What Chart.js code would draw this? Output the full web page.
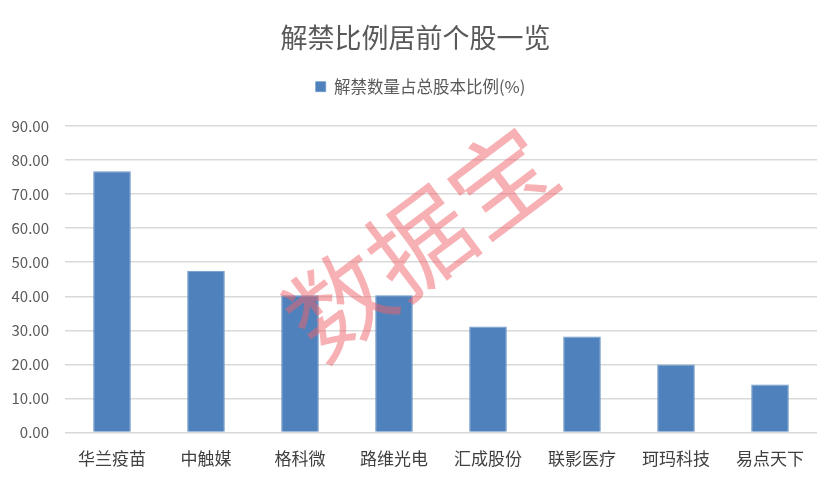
<!DOCTYPE html>
<html>
<head>
<meta charset="utf-8">
<script src="https://cdn.jsdelivr.net/npm/chart.js@4"></script>
<style>
  html, body { margin: 0; padding: 0; background: #fff; }
  #wrap { width: 832px; height: 482px; }
</style>
</head>
<body>
<div id="wrap"><canvas id="lockupChart" width="832" height="482"></canvas></div>
<script>
// data
const stocks = ["华兰疫苗", "中触媒", "格科微", "路维光电", "汇成股份", "联影医疗", "珂玛科技", "易点天下"];
const unlockRatio = [76.7, 47.5, 40.3, 40.3, 31.1, 28.2, 20.0, 14.1];
const yTicks = [0, 10, 20, 30, 40, 50, 60, 70, 80, 90];

const font = "'Noto Sans CJK SC', 'Noto Sans', sans-serif";

// pink "数据宝" watermark drawn over the bars
const watermark = {
  id: "watermark",
  afterDatasetsDraw(chart) {
    const c = chart.ctx;
    c.save();
    c.translate(420, 242);
    c.rotate(-37 * Math.PI / 180);
    c.font = "102px " + font;
    c.fillStyle = "rgba(240, 100, 105, 0.5)";
    c.textAlign = "center";
    c.textBaseline = "middle";
    c.fillText("数据宝", 0, 0);
    c.restore();
  }
};

// extra room between legend and plot
const legendGap = {
  id: "legendGap",
  beforeInit(chart) {
    const fit = chart.legend.fit;
    chart.legend.fit = function () {
      fit.call(this);
      this.height += 21;
    };
  }
};

// title and legend sit centred on the whole canvas, not the plot
const headerShift = {
  id: "headerShift",
  afterLayout(chart) {
    chart.titleBlock.left += 7;
    chart.titleBlock.right += 7;
    chart.legend.left += 12;
    chart.legend.right += 12;
  }
};

new Chart(document.getElementById("lockupChart"), {
  type: "bar",
  data: {
    labels: stocks,
    datasets: [{
      label: "解禁数量占总股本比例(%)",
      data: unlockRatio,
      backgroundColor: "#4f81bd",
      borderColor: "#6e97c9",
      borderWidth: { top: 1, left: 1, right: 1, bottom: 0 },
      categoryPercentage: 1,
      barPercentage: 0.4
    }]
  },
  options: {
    responsive: false,
    animation: false,
    devicePixelRatio: 1,
    layout: { padding: { left: 0, right: 15, top: 18, bottom: 5 } },
    plugins: {
      title: {
        display: true,
        text: "解禁比例居前个股一览",
        color: "#595959",
        font: { family: font, size: 27, weight: "normal" },
        padding: { top: 4, bottom: 14 }
      },
      legend: {
        display: true,
        position: "top",
        labels: {
          color: "#595959",
          font: { family: font, size: 16.5 },
          boxWidth: 10,
          boxHeight: 10,
          padding: 10
        }
      },
      tooltip: { enabled: false }
    },
    scales: {
      x: {
        grid: { display: false },
        border: { display: false },
        ticks: {
          color: "#404040",
          font: { family: font, size: 17 },
          padding: 8
        }
      },
      y: {
        min: 0,
        max: 90,
        afterBuildTicks(axis) {
          axis.ticks = yTicks.map(v => ({ value: v }));
        },
        afterFit(axis) {
          axis.width = 65;
        },
        grid: { color: "#d9d9d9", lineWidth: 1.5, drawTicks: false },
        border: { display: false },
        ticks: {
          color: "#595959",
          font: { family: font, size: 15 },
          padding: 16,
          callback: v => Number(v).toFixed(2)
        }
      }
    }
  },
  plugins: [watermark, legendGap, headerShift]
});
</script>
</body>
</html>
